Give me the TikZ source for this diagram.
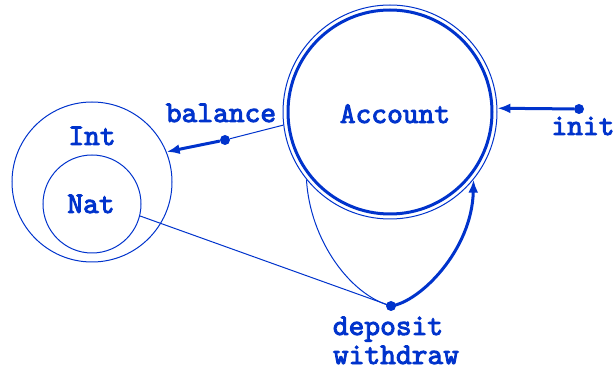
\documentclass[tikz,border=0pt]{standalone}
\usepackage{fontspec}
\usetikzlibrary{arrows.meta}
\newfontfamily\lblfont{lmmono10-regular.otf}[FakeBold=3]
\definecolor{acblue}{RGB}{0,51,204}

\tikzset{
	setnode/.style={circle, draw=acblue, line width=1pt, inner sep=0pt},
	lbl/.style={text=acblue, font=\fontsize{30}{34}\selectfont\lblfont, anchor=base, inner sep=0pt},
	dot/.style={circle, fill=acblue, inner sep=0pt, minimum size=10pt},
	thinline/.style={draw=acblue, line width=1pt},
	thickarrow/.style={draw=acblue, line width=3pt, -{Latex[length=13pt,width=10pt]}},
}

\begin{document}
\begin{tikzpicture}[x=1pt, y=-1pt]
	\useasboundingbox (0,0) rectangle (616,371);

	\node[setnode, minimum size=214pt] (account) at (390,112) {};
	\node[setnode, line width=3pt, minimum size=204pt] (accountin) at (390,112) {};
	\node[setnode, minimum size=160pt] (int) at (92,182) {};
	\node[setnode, minimum size=98pt] (nat) at (92,204) {};

	\node[lbl] (accountlbl) at (395,123) {Account};
	\node[lbl] (intlbl) at (92,145) {Int};
	\node[lbl] (natlbl) at (91,213) {Nat};
	\node[lbl] (ballbl) at (221,122) {balance};
	\node[lbl] (initlbl) at (583,135) {init};
	\node[lbl] (deplbl) at (388,335) {deposit};
	\node[lbl] (wdlbl) at (396,364) {withdraw};

	\node[dot] (bal) at (225,140) {};
	\node[dot] (init) at (579,109) {};
	\node[dot] (dep) at (391,306) {};

	% balance
	\draw[thinline] (bal) -- (account.187);
	\draw[thickarrow] (bal) -- (int.22);
	% init
	\draw[thickarrow] (init) -- (account.2);
	% deposit / withdraw
	\draw[thinline] (nat.346) -- (dep.center);
	\draw[thinline] (dep.center) .. controls (350,295) and (310,240) .. (account.219);
	\draw[thickarrow] (dep.center) .. controls (420,302) and (472,250) .. (account.321);
\end{tikzpicture}
\end{document}
